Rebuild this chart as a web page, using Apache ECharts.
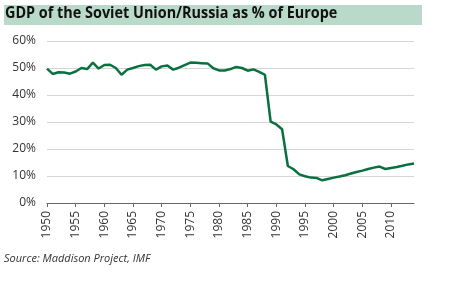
<!DOCTYPE html>
<html>
<head>
<meta charset="utf-8">
<script src="https://cdn.jsdelivr.net/npm/echarts@6/dist/echarts.min.js"></script>
<style>
html,body{margin:0;padding:0;background:#fff;}
#c{width:460px;height:287px;}
</style>
</head>
<body>
<div id="c"></div>
<script>
var titleText = 'GDP of the Soviet Union/Russia as % of Europe';
var sourceText = 'Source: Maddison Project, IMF';
var years = ['1950','1951','1952','1953','1954','1955','1956','1957','1958','1959',
  '1960','1961','1962','1963','1964','1965','1966','1967','1968','1969',
  '1970','1971','1972','1973','1974','1975','1976','1977','1978','1979',
  '1980','1981','1982','1983','1984','1985','1986','1987','1988','1989',
  '1990','1991','1992','1993','1994','1995','1996','1997','1998','1999',
  '2000','2001','2002','2003','2004','2005','2006','2007','2008','2009',
  '2010','2011','2012','2013','2014'];
var gdpShare = [49.8,47.8,48.4,48.3,47.9,48.7,50.0,49.6,52.0,49.8,
  51.1,51.2,50.0,47.5,49.4,50.0,50.7,51.1,51.2,49.4,
  50.6,50.9,49.4,50.1,51.1,52.0,51.9,51.8,51.7,49.9,
  49.1,49.1,49.6,50.4,50.0,49.0,49.5,48.6,47.5,30.1,
  29.1,27.3,13.7,12.5,10.6,9.9,9.4,9.3,8.4,8.9,
  9.4,9.8,10.3,10.9,11.5,12.0,12.6,13.1,13.5,12.6,
  13.0,13.3,13.8,14.3,14.6];
var yTicks = [0,10,20,30,40,50,60];

var chart = echarts.init(document.getElementById('c'), null, {renderer:'canvas'});
chart.setOption({
  animation:false,
  backgroundColor:'#ffffff',
  graphic:[
    {type:'rect', shape:{x:4,y:5,width:418,height:20}, style:{fill:'#b9d9c9'}},
    {type:'text', x:5, y:5, scaleX:0.9, style:{text:titleText, font:'bold 16px "Open Sans", sans-serif', fill:'#111'}},
    {type:'text', left:4, top:253, style:{text:sourceText, font:'italic 11px "Open Sans", sans-serif', fill:'#333'}}
  ],
  grid:{left:47, right:46, top:41, bottom:84},
  xAxis:{
    type:'category', data:years, boundaryGap:false,
    axisLine:{lineStyle:{color:'#666', width:1}},
    axisTick:{show:true, interval:4, length:4, lineStyle:{color:'#666'}},
    axisLabel:{interval:4, rotate:90, color:'#333', fontSize:12, fontFamily:'"Open Sans", sans-serif', margin:8}
  },
  yAxis:{
    type:'value', min:yTicks[0], max:yTicks[yTicks.length-1], interval:10,
    axisLine:{show:false}, axisTick:{show:false},
    axisLabel:{formatter:'{value}%', color:'#333', fontSize:12, fontFamily:'"Open Sans", sans-serif', margin:11},
    splitLine:{lineStyle:{color:'#d6d6d6', width:1}}
  },
  series:[{
    type:'line', data:gdpShare, showSymbol:false,
    lineStyle:{color:'#0a7040', width:2.5}
  }]
});
</script>
</body>
</html>
